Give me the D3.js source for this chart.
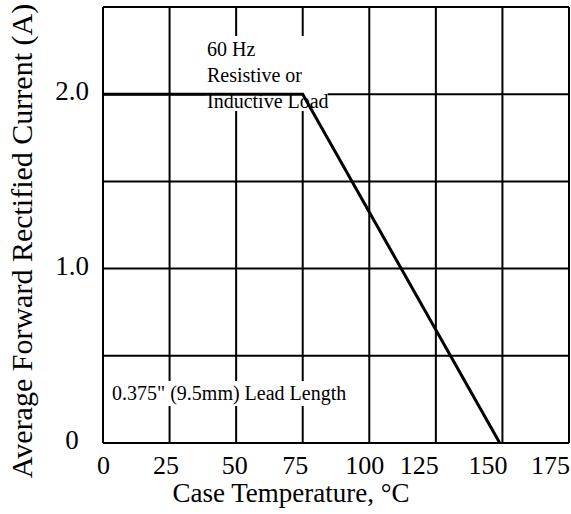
<!DOCTYPE html>
<html>
<head>
<meta charset="utf-8">
<script src="https://cdn.jsdelivr.net/npm/d3@7"></script>
<style>
  html, body { margin: 0; padding: 0; background: #fff; }
  text { font-family: "Liberation Serif", "Times New Roman", serif; fill: #000; }
</style>
</head>
<body>
<svg id="chart" width="571" height="514"></svg>
<script>
// derating curve
const caseTemp = [0, 75, 149];
const currentA = [2.0, 2.0, 0];

const xTicks = [0, 25, 50, 75, 100, 125, 150, 175];
const yGrid = [0, 0.5, 1.0, 1.5, 2.0, 2.5];
const yTickValues = [0, 1.0, 2.0];
const yTickLabels = ["0", "1.0", "2.0"];

const noteLines = ["60 Hz", "Resistive or", "Inductive Load"];
const leadNote = "0.375\" (9.5mm) Lead Length";

const xTitle = "Case Temperature, \u00B0C";
const yTitle = "Average Forward Rectified Current (A)";

// the original's tick labels sit a little left of their grid lines (px)
const xLabelNudge = [0, -4, -2, -8, -5, -17, -15, -19];

const margin = { top: 7, right: 2, bottom: 71, left: 103 };
const W = 571, H = 514;
const width = W - margin.left - margin.right;
const height = H - margin.top - margin.bottom;

const svg = d3.select("#chart");
const g = svg.append("g").attr("transform", `translate(${margin.left},${margin.top})`);

const xScale = d3.scaleLinear().domain([0, 175]).range([0, width]);
const yScale = d3.scaleLinear().domain([0, 2.5]).range([height, 0]);

// grid
g.append("g")
  .selectAll("line")
  .data(xTicks)
  .join("line")
  .attr("x1", d => xScale(d)).attr("x2", d => xScale(d))
  .attr("y1", 0).attr("y2", height)
  .attr("stroke", "#000").attr("stroke-width", 2);

g.append("g")
  .selectAll("line")
  .data(yGrid)
  .join("line")
  .attr("x1", 0).attr("x2", width)
  .attr("y1", d => yScale(d)).attr("y2", d => yScale(d))
  .attr("stroke", "#000").attr("stroke-width", 2);

// annotation boxes (white background hides grid behind the text)
const noteBox = g.append("rect").attr("fill", "#fff");
const leadBox = g.append("rect").attr("fill", "#fff");

// curve
const line = d3.line()
  .x((d, i) => xScale(caseTemp[i]))
  .y(d => yScale(d));

g.append("path")
  .datum(currentA)
  .attr("d", line)
  .attr("fill", "none")
  .attr("stroke", "#000")
  .attr("stroke-width", 3)
  .attr("stroke-linejoin", "miter");

// notes
const note = g.append("text")
  .attr("x", 104)
  .attr("y", 49)
  .style("font-size", "20px");
note.selectAll("tspan")
  .data(noteLines)
  .join("tspan")
  .attr("x", 104)
  .attr("dy", (d, i) => (i === 0 ? 0 : 26))
  .text(d => d);

const lead = g.append("text")
  .attr("x", 9)
  .attr("y", height - 43)
  .style("font-size", "20px")
  .text(leadNote);

let bb = note.node().getBBox();
noteBox.attr("x", bb.x - 2).attr("y", bb.y - 2)
  .attr("width", bb.width + 1).attr("height", bb.height + 1);
bb = lead.node().getBBox();
leadBox.attr("x", 2).attr("y", bb.y - 1)
  .attr("width", bb.x + bb.width + 4).attr("height", bb.height + 2);

// axes
const xAxis = d3.axisBottom(xScale)
  .tickValues(xTicks)
  .tickSize(0)
  .tickPadding(13)
  .tickFormat(d3.format("d"));

const gx = g.append("g")
  .attr("transform", `translate(0,${height})`)
  .call(xAxis);
gx.select(".domain").remove();
gx.attr("font-family", null);
gx.selectAll("text")
  .attr("x", (d, i) => xLabelNudge[i])
  .style("font-size", "26px");

const yAxis = d3.axisLeft(yScale)
  .tickValues(yTickValues)
  .tickSize(0)
  .tickFormat((d, i) => yTickLabels[i]);

const gy = g.append("g").call(yAxis);
gy.select(".domain").remove();
gy.attr("font-family", null).attr("text-anchor", null);
gy.selectAll("text")
  .attr("x", -31)
  .attr("y", -3)
  .attr("text-anchor", "middle")
  .style("font-size", "27px");

// titles
svg.append("text")
  .attr("x", 291)
  .attr("y", 502)
  .attr("text-anchor", "middle")
  .style("font-size", "27px")
  .text(xTitle);

svg.append("text")
  .attr("transform", "translate(32,241) rotate(-90)")
  .attr("text-anchor", "middle")
  .style("font-size", "30px")
  .text(yTitle);
</script>
</body>
</html>
